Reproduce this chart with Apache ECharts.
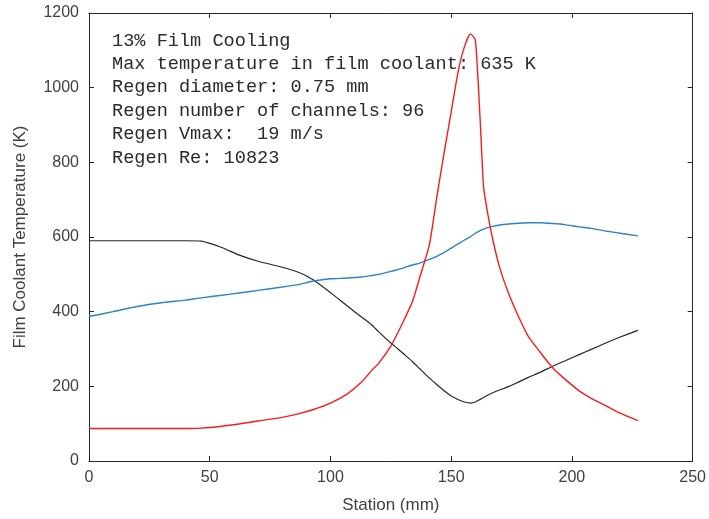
<!DOCTYPE html>
<html>
<head>
<meta charset="utf-8">
<script src="https://cdn.jsdelivr.net/npm/echarts@6/dist/echarts.min.js"></script>
<style>
  html, body { margin: 0; padding: 0; background: #fff; }
  #chart { width: 709px; height: 519px; }
</style>
</head>
<body>
<div id="chart"></div>
<script>
// station (mm), shared by all three curves
var stations = [0, 10, 20, 30, 40, 46.5, 55, 62, 70, 80, 87, 93, 100, 107, 113, 117, 120, 125, 128, 131,
    134, 137, 141, 144, 147.5, 150, 153, 155.5, 158, 160, 162, 163.4, 165, 167, 170, 174, 178, 182, 187,
    192, 197, 203, 208, 214, 220, 227.3];
var blackTemp = [590, 590, 590, 590, 590, 589, 572, 552, 535, 519, 505, 485, 451, 415, 385, 365, 346, 316, 300, 283,
    266, 247, 222, 205, 186, 174, 164, 158, 155, 158, 165, 170, 176, 182, 190, 200, 212, 224, 238,
    254, 268, 285, 299, 316, 332, 350];
var blueTemp = [387, 400, 414, 424, 431, 437, 444, 450, 457, 466, 473, 482, 488, 490, 493, 497, 500, 508, 513, 519,
    525, 530, 540, 548, 560, 570, 582, 592, 601, 610, 617, 621, 625, 628, 632, 635, 637, 638, 638,
    636, 633, 627, 623, 616, 610, 603];
var redTemp = [87, 87, 87, 87, 87, 88, 93, 99, 107, 117, 127, 138, 155, 180, 212, 242, 262, 308, 345, 385,
    428, 492, 580, 705, 842, 935, 1047, 1110, 1144, 1128, 913, 735, 668, 600, 520, 445, 385, 333, 290,
    250, 220, 188, 168, 148, 128, 108];
var infoLines = [
    '13% Film Cooling',
    'Max temperature in film coolant: 635 K',
    'Regen diameter: 0.75 mm',
    'Regen number of channels: 96',
    'Regen Vmax:  19 m/s',
    'Regen Re: 10823'
];

function pairs(ys) {
    return stations.map(function (x, i) { return [x, ys[i]]; });
}

var axisColor = '#262626';
var sansFont = 'Liberation Sans, Arial, sans-serif';

function boxAxis(extra) {
    var ax = {
        type: 'value',
        axisLine: { show: true, onZero: false, lineStyle: { color: axisColor } },
        axisTick: { show: true, inside: true, length: 5, lineStyle: { color: axisColor } },
        axisLabel: { show: false },
        splitLine: { show: false }
    };
    for (var k in extra) ax[k] = extra[k];
    return ax;
}

var myChart = echarts.init(document.getElementById('chart'));
var option = {
    animation: false,
    backgroundColor: '#fff',
    grid: { left: 89, top: 13, right: 14, bottom: 58 },
    xAxis: [boxAxis({
        min: 0, max: 250, interval: 50, position: 'bottom',
        name: 'Station (mm)', nameLocation: 'middle', nameGap: 36,
        nameTextStyle: { color: '#404040', fontSize: 17, fontFamily: sansFont },
        axisLabel: { show: true, margin: 9, color: '#404040', fontSize: 16, fontFamily: sansFont,
            formatter: function (v) { return String(v); } }
    }), boxAxis({
        min: 0, max: 250, interval: 50, position: 'top'
    })],
    yAxis: [boxAxis({
        min: 0, max: 1200, interval: 200, position: 'left',
        name: 'Film Coolant Temperature (K)', nameLocation: 'middle', nameGap: 60, nameRotate: 90,
        nameTextStyle: { color: '#404040', fontSize: 17, fontFamily: sansFont },
        axisLabel: { show: true, margin: 10, color: '#404040', fontSize: 16, fontFamily: sansFont,
            formatter: function (v) { return String(v); } }
    }), boxAxis({
        min: 0, max: 1200, interval: 200, position: 'right'
    })],
    graphic: [{
        type: 'text',
        left: 112,
        top: 29,
        style: {
            text: infoLines.join('\n'),
            fill: '#2b2b2b',
            fontSize: 18.6,
            lineHeight: 23.4,
            fontFamily: 'Liberation Mono, Courier New, monospace'
        }
    }],
    series: [{
        name: 'black', type: 'line', data: pairs(blackTemp), showSymbol: false, smooth: 0.2,
        lineStyle: { color: '#262626', width: 1.2 }
    }, {
        name: 'blue', type: 'line', data: pairs(blueTemp), showSymbol: false, smooth: 0.2,
        lineStyle: { color: '#2a84c9', width: 1.4 }
    }, {
        name: 'red', type: 'line', data: pairs(redTemp), showSymbol: false, smooth: 0.2,
        lineStyle: { color: '#ff1a1a', width: 1.4 }
    }]
};
myChart.setOption(option);
</script>
</body>
</html>
